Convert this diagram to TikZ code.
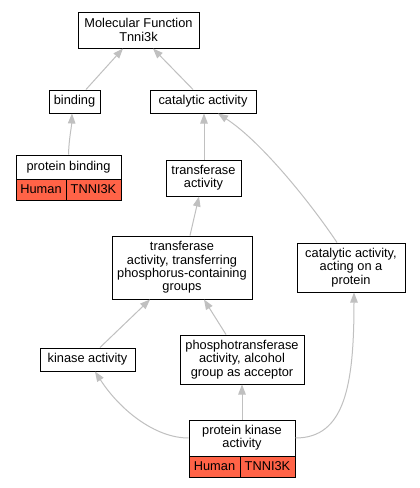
\documentclass[tikz,border=0pt]{standalone}
\usepackage{fontspec}
\setmainfont{Liberation Sans}
\usetikzlibrary{arrows.meta}
\definecolor{hum}{RGB}{255,99,71}
\definecolor{edgegray}{RGB}{192,192,192}
\newcommand{\nodefont}{\fontsize{12.8}{13.3}\selectfont}
\begin{document}
\begin{tikzpicture}[x=1pt,y=-1pt,
  box/.style={draw, line width=1pt, fill=white, inner sep=0pt, align=center, font=\nodefont},
  cell/.style={box, fill=hum},
  edge/.style={draw=edgegray, line width=1pt, -{Triangle[length=10pt,width=7.5pt,fill=edgegray]}}]
\useasboundingbox[fill=white] (0,0) rectangle (420,488);
% nodes
\node[box, minimum width=121pt, minimum height=36pt] (mf) at (138.5,30) {Molecular Function\\Tnni3k};
\node[box, minimum width=51pt, minimum height=23pt] (bind) at (74.5,101.5) {binding};
\node[box, minimum width=106pt, minimum height=23pt] (cat) at (203,101.5) {catalytic activity};
\node[box, minimum width=105pt, minimum height=24pt] (pb) at (68.5,167) {protein binding};
\node[cell, minimum width=50pt, minimum height=21pt] (pbh) at (41,189.5) {Human};
\node[cell, minimum width=55pt, minimum height=21pt] (pbt) at (93.5,189.5) {TNNI3K};
\node[box, minimum width=75pt, minimum height=36pt] (ta) at (203.5,178) {transferase\\activity};
\node[box, minimum width=140pt, minimum height=63pt] (tt) at (182,267.5) {transferase\\activity, transferring\\phosphorus-containing\\groups};
\node[box, minimum width=108pt, minimum height=49pt] (cap) at (351,267.5) {catalytic activity,\\acting on a\\protein};
\node[box, minimum width=95pt, minimum height=23pt] (kin) at (87.5,359.5) {kinase activity};
\node[box, minimum width=124pt, minimum height=49pt] (pho) at (242,359.5) {phosphotransferase\\activity, alcohol\\group as acceptor};
\node[box, minimum width=106pt, minimum height=36pt] (pka) at (242,438) {protein kinase\\activity};
\node[cell, minimum width=51pt, minimum height=21pt] (pkah) at (214.5,466.5) {Human};
\node[cell, minimum width=55pt, minimum height=21pt] (pkat) at (267.5,466.5) {TNNI3K};
% edges
\draw[edge] ([xshift=11.5pt]bind.north) -- ([xshift=-15.5pt]mf.south);
\draw[edge] ([xshift=-10pt]cat.north) -- ([xshift=14.5pt]mf.south);
\draw[edge] (pb.north) .. controls (69,138) and (71.5,128) .. ([xshift=-2.5pt]bind.south);
\draw[edge] ([xshift=0.5pt]ta.north) -- ([xshift=1pt]cat.south);
\draw[edge] ([xshift=-14pt]cap.north) .. controls (312,205) and (262,142) .. ([xshift=15pt]cat.south);
\draw[edge] ([xshift=8pt]tt.north) -- ([xshift=-4.5pt]ta.south);
\draw[edge] ([xshift=12.5pt]kin.north) -- ([xshift=-32pt]tt.south);
\draw[edge] ([xshift=-16pt]pho.north) -- ([xshift=22pt]tt.south);
\draw[edge] (pka.north) -- (pho.south);
\draw[edge] (pka.west) .. controls (155,438) and (120,410) .. ([xshift=7.5pt]kin.south);
\draw[edge] (pka.east) .. controls (345,438) and (354,385) .. ([xshift=3pt]cap.south);
\end{tikzpicture}
\end{document}
